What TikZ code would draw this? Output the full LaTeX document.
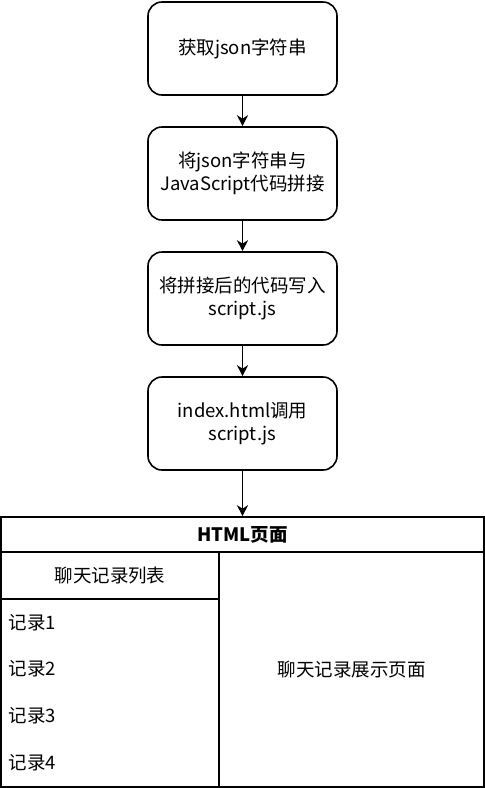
\documentclass[tikz,border=0pt]{standalone}
\usepackage{fontspec}
\setmainfont{Noto Sans CJK SC}
\usetikzlibrary{arrows.meta,positioning}

\begin{document}
\begin{tikzpicture}[->,>={Stealth[length=11pt,width=11pt,inset=3.5pt]},x=1pt,y=-1pt,
        node distance=125pt,line width=1.6pt,
        proc/.style={draw,rounded corners=14pt,minimum width=189pt,minimum height=93pt,
          align=center,font=\fontsize{18.5}{23}\selectfont},
        cell/.style={draw,inner sep=0pt,font=\fontsize{18.5}{23}\selectfont}]

  \useasboundingbox (0,0) rectangle (485,788);

  \node[proc] (n_0) at (242.5,48.5) {获取json字符串};
  \node[proc] (n_1) [below of=n_0] {将json字符串与\\JavaScript代码拼接};
  \node[proc] (n_2) [below of=n_1] {将拼接后的代码写入\\script.js};
  \node[proc] (n_3) [below of=n_2] {index.html调用\\script.js};

  \node[cell,minimum width=483pt,minimum height=35pt] (page) at (242.5,534.5) {\bfseries HTML页面};
  \node[cell,minimum width=218pt,minimum height=47pt] (list) at (110,575.5) {聊天记录列表};
  \node[cell,minimum width=218pt,minimum height=188pt] (items) at (110,693) {};
  \node[cell,minimum width=265pt,minimum height=235pt] (view) at (351.5,669.5) {聊天记录展示页面};

  \foreach \i/\y in {1/623,2/669,3/716,4/763}
    \node[font=\fontsize{18.5}{23}\selectfont,anchor=west,inner sep=0pt] (rec_\i) at (8,\y) {记录\i};

  \draw (n_0) -- (n_1);
  \draw (n_1) -- (n_2);
  \draw (n_2) -- (n_3);
  \draw (n_3) -- (page);

\end{tikzpicture}
\end{document}
